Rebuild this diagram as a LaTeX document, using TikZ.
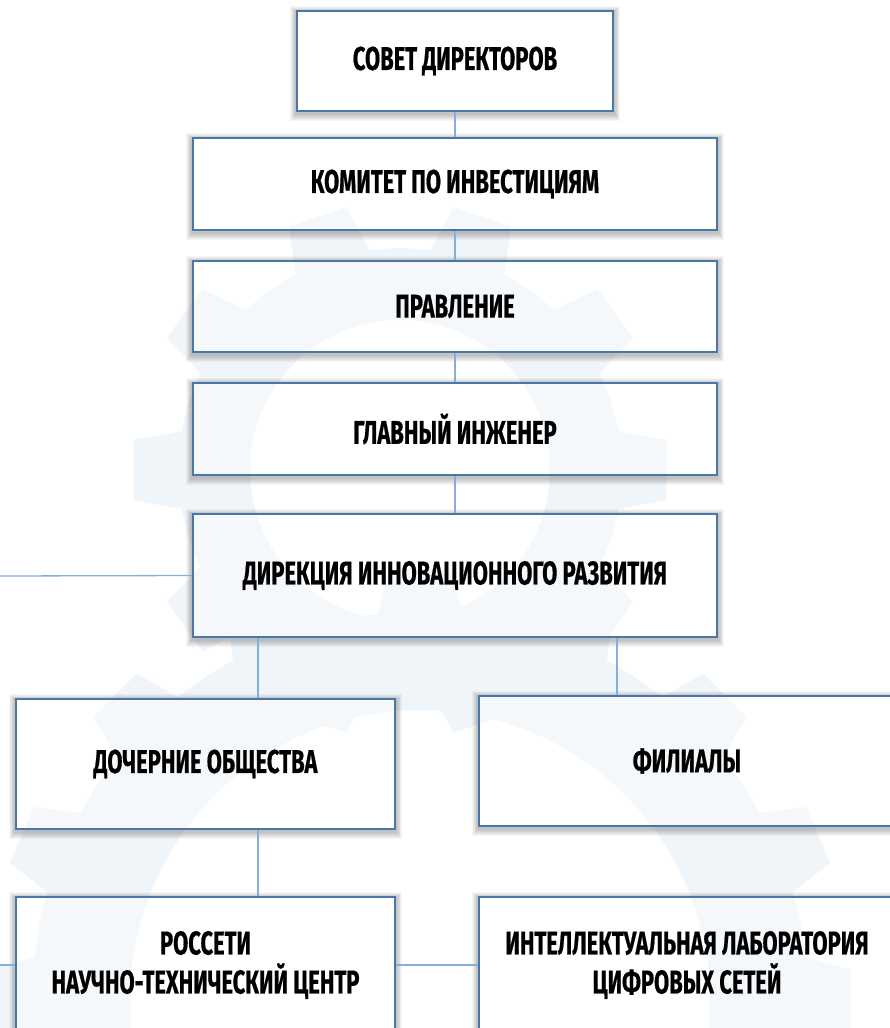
\documentclass[tikz,border=0pt]{standalone}
\usepackage{fontspec}
\newfontfamily\boxfont{Fira Sans}[FakeStretch=0.665, FakeBold=0.5]
\definecolor{boxline}{RGB}{74,118,168}
\definecolor{conn}{RGB}{132,174,220}
\definecolor{gearc}{RGB}{240,245,250}
\pgfdeclarelayer{bg}
\pgfdeclarelayer{shad}
\pgfsetlayers{bg,shad,main}
\tikzset{
  orgbox/.style={draw=boxline, line width=1.8pt, fill=white, fill opacity=0.35, text opacity=1,
    inner sep=0pt, align=center, text=black,
    font=\boxfont\bfseries\fontsize{33}{39}\selectfont},
  link/.style={draw=conn, line width=1.3pt},
  shadowring/.style={fill=black, fill opacity=0.035},
}
\newcommand\drawgear[6]{%
  \begin{scope}[shift={(#1,#2)}]
  \pgfmathsetmacro\gstep{360/#5}
  \fill[gearc, even odd rule] ({-0.28*\gstep}:#3)
    \foreach \i in {1,...,#5}{
      -- ({(\i-1)*\gstep-0.18*\gstep}:#4) -- ({(\i-1)*\gstep+0.18*\gstep}:#4)
      -- ({(\i-1)*\gstep+0.28*\gstep}:#3) -- ({(\i-1)*\gstep+0.5*\gstep}:#3)
      -- ({(\i-1)*\gstep+0.72*\gstep}:#3)
    } -- cycle (0,0) circle[radius=#6];
  \end{scope}}
\begin{document}
\begin{tikzpicture}[x=1pt,y=-1pt]
\useasboundingbox (0,0) rectangle (890,1028);
% boxes
\node[orgbox, minimum width=316pt, minimum height=100pt] (n1) at (455,61) {СОВЕТ ДИРЕКТОРОВ};
\node[orgbox, minimum width=524pt, minimum height=92pt] (n2) at (455,184) {КОМИТЕТ ПО ИНВЕСТИЦИЯМ};
\node[orgbox, minimum width=524pt, minimum height=91pt] (n3) at (455,306.5) {ПРАВЛЕНИЕ};
\node[orgbox, minimum width=524pt, minimum height=92pt] (n4) at (455,429) {ГЛАВНЫЙ ИНЖЕНЕР};
\node[orgbox, minimum width=524pt, minimum height=123pt] (n5) at (455,575.5) {ДИРЕКЦИЯ ИННОВАЦИОННОГО РАЗВИТИЯ};
\node[orgbox, minimum width=379pt, minimum height=130pt] (n6) at (205.5,764) {ДОЧЕРНИЕ ОБЩЕСТВА};
\node[orgbox, minimum width=416pt, minimum height=130pt] (n7) at (687,761) {ФИЛИАЛЫ};
\node[orgbox, minimum width=379pt, minimum height=136pt] (n8) at (205.5,965) {РОССЕТИ\\НАУЧНО-ТЕХНИЧЕСКИЙ ЦЕНТР};
\node[orgbox, minimum width=416pt, minimum height=136pt] (n9) at (687,965) {ИНТЕЛЛЕКТУАЛЬНАЯ ЛАБОРАТОРИЯ\\ЦИФРОВЫХ СЕТЕЙ};
\coordinate (e5) at (0,576);
\coordinate (e8) at (0,965);
% connectors
\draw[link] (n1) -- (n2);
\draw[link] (n2) -- (n3);
\draw[link] (n3) -- (n4);
\draw[link] (n4) -- (n5);
\draw[link] (n5.south -| 258,0) -- (n6.north -| 258,0);
\draw[link] (n5.south -| 617,0) -- (n7.north -| 617,0);
\draw[link] (n6.south -| 258,0) -- (n8.north -| 258,0);
\draw[link] (n5.west) -- (e5);
\draw[link] (n8.west) -- (e8);
\draw[link] (n8.east) -- (n9.west);
% background and gears
\begin{pgfonlayer}{bg}
\fill[white] (0,0) rectangle (890,1028);
\drawgear{400}{470}{222}{268}{10}{150}
\drawgear{420}{1000}{388}{432}{16}{290}
\end{pgfonlayer}
% shadows outside boxes
\begin{pgfonlayer}{shad}
\begin{scope}
\clip (0,0) rectangle (890,1028)
  (n1.south west) rectangle (n1.north east)
  (n2.south west) rectangle (n2.north east)
  (n3.south west) rectangle (n3.north east)
  (n4.south west) rectangle (n4.north east)
  (n5.south west) rectangle (n5.north east)
  (n6.south west) rectangle (n6.north east)
  (n7.south west) rectangle (n7.north east)
  (n8.south west) rectangle (n8.north east)
  (n9.south west) rectangle (n9.north east);
\foreach \n in {n1,n2,n3,n4,n5,n6,n7,n8,n9}{
  \foreach \k in {1,...,7}{
    \fill[shadowring] ([shift={(-\k*0.9,-\k*0.9+2)}]\n.north west) rectangle ([shift={(\k*0.9,\k*0.9+2.5)}]\n.south east);
  }
}
\end{scope}
\end{pgfonlayer}
\end{tikzpicture}
\end{document}
